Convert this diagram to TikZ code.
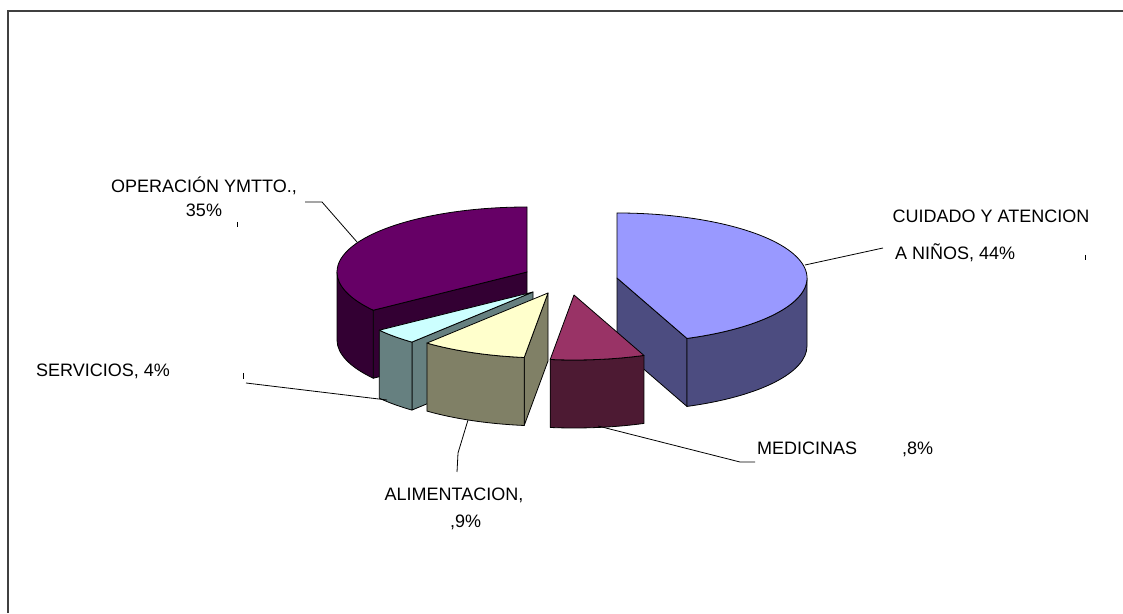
\documentclass[tikz,border=0pt]{standalone}
\usepackage{fontspec}
\setmainfont{Liberation Sans}
% point on the rim of a slice whose centre is #1, at angle #2
\newcommand\pieRim[2]{([shift={(#2:190pt and 65pt)}]#1)}
% curved outer wall of a slice between angles #2 and #3
\newcommand\pieWall[4]{%
  \filldraw[face, fill=#4] \pieRim{#1}{#2} arc[rim, start angle=#2, end angle=#3]
    -- ++(0,-68) arc[rim, start angle=#3, end angle=#2] -- cycle;}
% flat cut face of a slice along angle #2
\newcommand\pieCut[3]{%
  \filldraw[face, fill=#3] (#1) -- \pieRim{#1}{#2} -- ++(0,-68)
    -- ([yshift=-68pt]#1) -- cycle;}
% top face of a slice between angles #2 and #3
\newcommand\pieTop[4]{%
  \filldraw[face, fill=#4] (#1) -- \pieRim{#1}{#2} arc[rim, start angle=#2, end angle=#3] -- cycle;}
\definecolor{cuTop}{HTML}{9999FF}\definecolor{cuSide}{HTML}{4C4C80}
\definecolor{meTop}{HTML}{993366}\definecolor{meSide}{HTML}{4D1A33}
\definecolor{alTop}{HTML}{FFFFCC}\definecolor{alSide}{HTML}{808066}
\definecolor{seTop}{HTML}{CCFFFF}\definecolor{seSide}{HTML}{668080}
\definecolor{opTop}{HTML}{660066}\definecolor{opSide}{HTML}{330033}
\definecolor{frame}{HTML}{404040}
\begin{document}
\begin{tikzpicture}[x=1pt,y=1pt,
  face/.style={draw=black, line width=0.8pt, line join=round},
  rim/.style={x radius=190pt, y radius=65pt},
  leader/.style={draw=black, line width=0.8pt},
  lbl/.style={inner sep=0pt, font=\fontsize{18}{21}\selectfont}]
\useasboundingbox (0,0) rectangle (1123,613);
\fill[white] (0,0) rectangle (1123,613);
% chart frame
\draw[frame, line width=2pt] (8,0) -- (8,602) -- (1123,602);

% slice centres
\coordinate (op) at (527,341);
\coordinate (se) at (533,321);
\coordinate (cu) at (617,335);
\coordinate (al) at (548,320);
\coordinate (me) at (574,318);

% OPERACIÓN Y MTTO. 35%
\pieCut{op}{216}{opSide}
\pieWall{op}{180}{216}{opSide}
\pieTop{op}{90}{216}{opTop}
% SERVICIOS 4%
\pieCut{se}{-129.6}{seSide}
\pieWall{se}{-144}{-129.6}{seSide}
\pieTop{se}{-144}{-129.6}{seTop}
% CUIDADO Y ATENCION A NIÑOS 44%
\pieCut{cu}{-68.4}{cuSide}
\pieWall{cu}{-68.4}{0}{cuSide}
\pieTop{cu}{-68.4}{90}{cuTop}
% ALIMENTACION 9%
\pieCut{al}{-97.2}{alSide}
\pieWall{al}{-129.6}{-97.2}{alSide}
\pieTop{al}{-129.6}{-97.2}{alTop}
% MEDICINAS 8%
\pieWall{me}{-97.2}{-68.4}{meSide}
\pieTop{me}{-97.2}{-68.4}{meTop}

% labels
\node[lbl, anchor=base] (opA) at (204,420) {OPERACIÓN YMTTO.,};
\node[lbl, anchor=base] (opB) at (204,396) {35\%};
\node[lbl, anchor=base] (cuA) at (991,390) {CUIDADO Y ATENCION};
\node[lbl, anchor=base west] (cuB) at (895,353) {A NIÑOS, 44\%};
\node[lbl, anchor=base west] (meA) at (757,158) {MEDICINAS};
\node[lbl, anchor=base west] (meB) at (902,158) {,8\%};
\node[lbl, anchor=base] (alA) at (454,113) {ALIMENTACION,};
\node[lbl, anchor=base west] (alB) at (450,86) {,9\%};
\node[lbl, anchor=base west] (seA) at (36,236) {SERVICIOS,  4\%};

% leader lines
\coordinate (opL0) at (305,411);
\coordinate (opL1) at (322,411);
\coordinate (opL2) at (357,371);
\draw[leader] (opL0) -- (opL1) -- (opL2);
\coordinate (opT0) at (237,391);
\coordinate (opT1) at (237,386);
\draw[leader] (opT0) -- (opT1);

\coordinate (cuL0) at (805,348);
\coordinate (cuL1) at (883,365);
\draw[leader] (cuL0) -- (cuL1);
\coordinate (cuT0) at (1085,358);
\coordinate (cuT1) at (1085,353);
\draw[leader] (cuT0) -- (cuT1);

\coordinate (meL0) at (598,187);
\coordinate (meL1) at (740,151);
\coordinate (meL2) at (755,151);
\draw[leader] (meL0) -- (meL1) -- (meL2);

\coordinate (alL0) at (468,193);
\coordinate (alL1) at (458,160);
\coordinate (alL2) at (457,141);
\draw[leader] (alL0) -- (alL1) -- (alL2);

\coordinate (seT0) at (243,240);
\coordinate (seT1) at (243,234);
\coordinate (seL0) at (246,230);
\coordinate (seL1) at (387,213);
\draw[leader] (seT0) -- (seT1);
\draw[leader] (seL0) -- (seL1);
\end{tikzpicture}
\end{document}
